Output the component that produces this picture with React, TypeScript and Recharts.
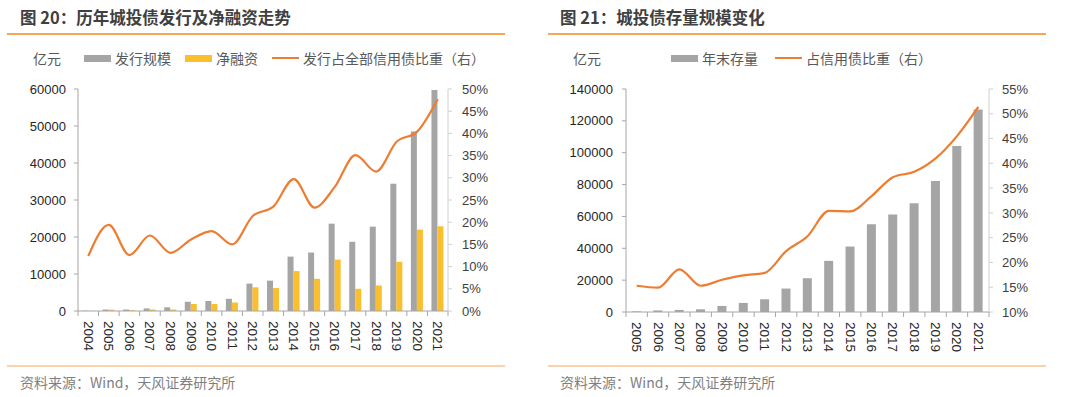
import { ComposedChart, Bar, Line, XAxis, YAxis } from 'recharts'

const YEARS_A = ['2004', '2005', '2006', '2007', '2008', '2009', '2010', '2011', '2012', '2013', '2014', '2015', '2016', '2017', '2018', '2019', '2020', '2021']
const ISSUE = [80, 400, 400, 700, 1000, 2500, 2700, 3300, 7400, 8200, 14700, 15800, 23600, 18700, 22800, 34400, 48500, 59700]
const NET = [0, 350, 200, 400, 400, 1900, 1900, 2300, 6400, 6200, 10800, 8700, 13900, 6000, 6900, 13300, 22000, 22900]
const ISSUE_SHARE = [12.4, 19.4, 12.6, 17.0, 13.1, 16.1, 18.0, 15.0, 21.4, 23.5, 29.7, 23.3, 28.0, 35.1, 31.4, 38.1, 40.4, 47.7]

const YEARS_B = ['2005', '2006', '2007', '2008', '2009', '2010', '2011', '2012', '2013', '2014', '2015', '2016', '2017', '2018', '2019', '2020', '2021']
const STOCK = [400, 1000, 1300, 1700, 3800, 5700, 8000, 14700, 21200, 32100, 41100, 55100, 61200, 68300, 82200, 104200, 127200]
const STOCK_SHARE = [15.3, 14.9, 18.6, 15.3, 16.5, 17.4, 17.9, 22.3, 25.3, 30.4, 30.3, 33.4, 37.2, 38.3, 41.0, 45.5, 51.4]

const TICKS_A_L = [0, 10000, 20000, 30000, 40000, 50000, 60000]
const TICKS_A_R = [0, 5, 10, 15, 20, 25, 30, 35, 40, 45, 50]
const TICKS_B_L = [0, 20000, 40000, 60000, 80000, 100000, 120000, 140000]
const TICKS_B_R = [10, 15, 20, 25, 30, 35, 40, 45, 50, 55]

const dataA = YEARS_A.map((y, i) => ({ year: y, issue: ISSUE[i], net: NET[i], share: ISSUE_SHARE[i] }))
const dataB = YEARS_B.map((y, i) => ({ year: y, stock: STOCK[i], share: STOCK_SHARE[i] }))

const GRAY = '#a5a5a5'
const YELLOW = '#fbbe2c'
const ORANGE = '#ed7d31'
const CJK = '"Noto Sans CJK SC", "Noto Sans", sans-serif'
const NUM = '"Liberation Sans", Arial, sans-serif'
const tickStyle = { fontSize: 13, fill: '#262626', fontFamily: NUM }

function YearTick(props: any) {
  const { x, y, payload, index, visibleTicksCount, bw } = props
  const left = x - bw / 2
  const right = x + bw / 2
  const last = index === visibleTicksCount - 1
  return (
    <g>
      <line x1={left} x2={left} y1={y} y2={y + 5} stroke="#a6a6a6" />
      {last && <line x1={right} x2={right} y1={y} y2={y + 5} stroke="#a6a6a6" />}
      <text
        x={x}
        y={y + 10}
        transform={`rotate(90 ${x} ${y + 10})`}
        textAnchor="start"
        dominantBaseline="central"
        fontSize={13.5}
        fill="#262626"
        fontFamily={NUM}
      >
        {payload.value}
      </text>
    </g>
  )
}

function Legend({ items, left, unitLeft }: { items: { label: string; color: string; line?: boolean; x: number }[]; left: number; unitLeft: number }) {
  return (
    <div style={{ position: 'absolute', left, top: 47, height: 22, width: 540, fontFamily: CJK, fontSize: 14, color: '#595959' }}>
      <span style={{ position: 'absolute', left: unitLeft, top: 0, lineHeight: '22px' }}>亿元</span>
      {items.map((it) => (
        <div key={it.label} style={{ position: 'absolute', left: it.x, top: 0, display: 'flex', alignItems: 'center', height: 22, whiteSpace: 'nowrap' }}>
          <span style={{ display: 'inline-block', width: 27, height: it.line ? 2 : 7, background: it.color, marginRight: 4 }} />
          <span>{it.label}</span>
        </div>
      ))}
    </div>
  )
}

function Frame({ left, title, lineLeft, lineWidth }: { left: number; title: string; lineLeft: number; lineWidth: number }) {
  return (
    <>
      <div style={{ position: 'absolute', left: left + 20, top: 5, fontFamily: CJK, fontSize: 16.5, fontWeight: 700, color: '#404040', lineHeight: '24px', whiteSpace: 'nowrap' }}>
        {title}
      </div>
      <div style={{ position: 'absolute', left: lineLeft, top: 33, width: lineWidth, height: 1.5, background: '#f5a65b' }} />
      <div style={{ position: 'absolute', left: lineLeft, top: 365, width: lineWidth, height: 1.5, background: '#fad3ad' }} />
      <div style={{ position: 'absolute', left: left + 20, top: 372, fontFamily: CJK, fontSize: 14, color: '#7f7f7f', lineHeight: '20px', whiteSpace: 'nowrap' }}>
        资料来源：Wind，天风证券研究所
      </div>
    </>
  )
}

export default function App() {
  const bwA = 370 / YEARS_A.length
  const bwB = 363 / YEARS_B.length
  return (
    <div style={{ position: 'absolute', left: 0, top: 0, width: 1080, height: 397, background: '#fff', overflow: 'hidden' }}>
      <Frame left={0} title="图 20：历年城投债发行及净融资走势" lineLeft={7} lineWidth={498} />
      <Frame left={540} title="图 21：城投债存量规模变化" lineLeft={548} lineWidth={498} />

      <Legend
        left={0}
        unitLeft={33}
        items={[
          { label: '发行规模', color: GRAY, x: 84 },
          { label: '净融资', color: YELLOW, x: 185 },
          { label: '发行占全部信用债比重（右）', color: ORANGE, line: true, x: 272 },
        ]}
      />
      <Legend
        left={540}
        unitLeft={33}
        items={[
          { label: '年末存量', color: GRAY, x: 131 },
          { label: '占信用债比重（右）', color: ORANGE, line: true, x: 235 },
        ]}
      />

      <div style={{ position: 'absolute', left: 0, top: 0 }}>
        <ComposedChart width={540} height={397} data={dataA} margin={{ top: 89, right: 32, bottom: 46, left: 0 }} barGap={0}>
          <XAxis
            dataKey="year"
            height={40}
            interval={0}
            tickSize={0}
            tickMargin={0}
            axisLine={{ stroke: '#a6a6a6' }}
            tickLine={false}
            tick={(p: any) => <YearTick {...p} bw={bwA} />}
          />
          <YAxis
            yAxisId="l"
            width={78}
            domain={[0, 60000]}
            ticks={TICKS_A_L}
            tick={tickStyle}
            tickSize={4}
            tickMargin={8}
            axisLine={{ stroke: '#a6a6a6' }}
            tickLine={{ stroke: '#a6a6a6' }}
          />
          <YAxis
            yAxisId="r"
            orientation="right"
            width={60}
            domain={[0, 50]}
            ticks={TICKS_A_R}
            tickFormatter={(v) => `${v}%`}
            tick={{ ...tickStyle, fill: '#404040' }}
            tickSize={4}
            tickMargin={10}
            axisLine={{ stroke: '#d0d0d0' }}
            tickLine={{ stroke: '#d0d0d0' }}
          />
          <Bar yAxisId="l" dataKey="issue" fill={GRAY} barSize={6} isAnimationActive={false} />
          <Bar yAxisId="l" dataKey="net" fill={YELLOW} barSize={6} isAnimationActive={false} />
          <Line yAxisId="r" dataKey="share" type="monotone" stroke={ORANGE} strokeWidth={2.2} dot={false} activeDot={false} isAnimationActive={false} />
        </ComposedChart>
      </div>

      <div style={{ position: 'absolute', left: 540, top: 0 }}>
        <ComposedChart width={540} height={397} data={dataB} margin={{ top: 89, right: 31, bottom: 45, left: 0 }}>
          <XAxis
            dataKey="year"
            height={40}
            interval={0}
            tickSize={0}
            tickMargin={0}
            axisLine={{ stroke: '#a6a6a6' }}
            tickLine={false}
            tick={(p: any) => <YearTick {...p} bw={bwB} />}
          />
          <YAxis
            yAxisId="l"
            width={86}
            domain={[0, 140000]}
            ticks={TICKS_B_L}
            tick={tickStyle}
            tickSize={4}
            tickMargin={9}
            axisLine={{ stroke: '#a6a6a6' }}
            tickLine={{ stroke: '#a6a6a6' }}
          />
          <YAxis
            yAxisId="r"
            orientation="right"
            width={60}
            domain={[10, 55]}
            ticks={TICKS_B_R}
            tickFormatter={(v) => `${v}%`}
            tick={{ ...tickStyle, fill: '#404040' }}
            tickSize={4}
            tickMargin={9}
            axisLine={{ stroke: '#d0d0d0' }}
            tickLine={{ stroke: '#d0d0d0' }}
          />
          <Bar yAxisId="l" dataKey="stock" fill={GRAY} barSize={9} isAnimationActive={false} />
          <Line yAxisId="r" dataKey="share" type="monotone" stroke={ORANGE} strokeWidth={2.2} dot={false} activeDot={false} isAnimationActive={false} />
        </ComposedChart>
      </div>
    </div>
  )
}
